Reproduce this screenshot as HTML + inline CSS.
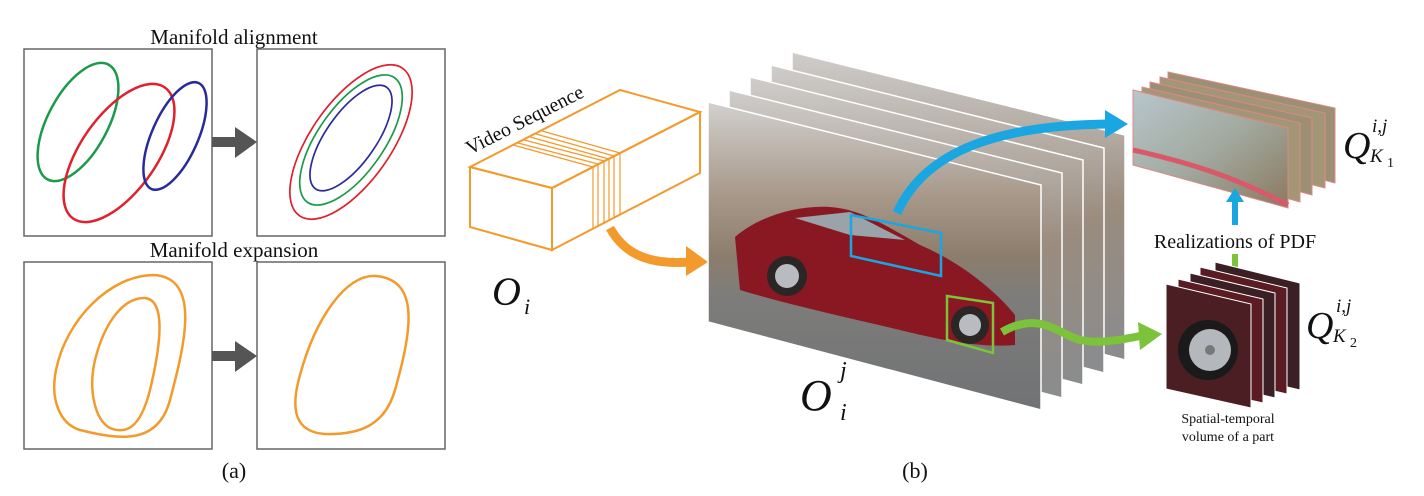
<!DOCTYPE html>
<html><head><meta charset="utf-8"><style>
html,body{margin:0;padding:0;background:#fff;}
svg{display:block;}
text{font-family:"Liberation Serif",serif;fill:#111;}
</style></head><body>
<svg width="1424" height="496" viewBox="0 0 1424 496" xmlns="http://www.w3.org/2000/svg">
<defs>
<linearGradient id="scene" x1="0" y1="0" x2="0" y2="1">
<stop offset="0" stop-color="#d2d0ce"/>
<stop offset="0.3" stop-color="#a8998b"/>
<stop offset="0.5" stop-color="#8c7d6c"/>
<stop offset="0.62" stop-color="#7e7d7a"/>
<stop offset="1" stop-color="#707275"/>
</linearGradient>
<linearGradient id="back" x1="0" y1="0" x2="0" y2="1">
<stop offset="0" stop-color="#cfcdcb"/>
<stop offset="0.5" stop-color="#9a8c7e"/>
<stop offset="1" stop-color="#8a8c8e"/>
</linearGradient>
<linearGradient id="q1" x1="0" y1="0" x2="1" y2="1">
<stop offset="0" stop-color="#b8c6cc"/>
<stop offset="0.5" stop-color="#a2aaa0"/>
<stop offset="1" stop-color="#8a7a60"/>
</linearGradient>
</defs>

<!-- (a) -->
<text x="234" y="44" font-size="21" text-anchor="middle">Manifold alignment</text>
<text x="234" y="257" font-size="21" text-anchor="middle">Manifold expansion</text>
<g fill="none" stroke="#666" stroke-width="1.5">
<rect x="24" y="49" width="188" height="187"/>
<rect x="257" y="49" width="188" height="187"/>
<rect x="24" y="262" width="188" height="187"/>
<rect x="257" y="262" width="188" height="187"/>
</g>
<g fill="#555">
<polygon points="212,137 235,137 235,127 257,142 235,158 235,147 212,147"/>
<polygon points="212,351 235,351 235,341 257,356 235,372 235,361 212,361"/>
</g>
<g fill="none" stroke-width="2.5">
<ellipse cx="78" cy="122" rx="30" ry="65" transform="rotate(28 78 122)" stroke="#1a9a4a"/>
<ellipse cx="119" cy="153" rx="38" ry="80" transform="rotate(35 119 153)" stroke="#e0202a"/>
<ellipse cx="175" cy="136" rx="23" ry="58" transform="rotate(24 175 136)" stroke="#2a2a9a"/>
</g>
<g fill="none" stroke-width="1.7">
<ellipse cx="351" cy="142" rx="40" ry="90" transform="rotate(35 351 142)" stroke="#e0202a"/>
<ellipse cx="351" cy="140" rx="33" ry="76" transform="rotate(35 351 140)" stroke="#1a9a4a"/>
<ellipse cx="351" cy="138" rx="25" ry="62" transform="rotate(35 351 138)" stroke="#2a2a9a"/>
</g>
<g fill="none" stroke="#f39a2c" stroke-width="2.5">
<path d="M154,275 C200,278 186,340 170,400 C158,445 120,440 80,430 C60,424 50,400 56,370 C66,320 110,275 154,275 Z"/>
<path d="M145,298 C165,300 162,340 150,390 C140,430 125,434 110,428 C95,420 88,390 95,360 C105,320 125,297 145,298 Z"/>
<path d="M376,276 C420,280 412,330 395,390 C385,425 360,435 325,434 C295,432 290,410 300,375 C315,320 345,274 376,276 Z"/>
</g>
<text x="234" y="478" font-size="22" text-anchor="middle">(a)</text>

<!-- video sequence box -->
<g fill="none" stroke="#f39a2c" stroke-width="2">
<polygon points="470,167 552,188 552,250 470,227"/>
<polygon points="552,188 700,112 700,173 552,250"/>
<polygon points="470,167 620,90 700,112 552,188"/>
<g stroke-width="1.2">
<line x1="593" y1="167" x2="593" y2="229"/><line x1="598" y1="164" x2="598" y2="227"/>
<line x1="604" y1="161" x2="604" y2="224"/><line x1="609" y1="159" x2="609" y2="221"/>
<line x1="614" y1="156" x2="614" y2="218"/><line x1="620" y1="153" x2="620" y2="215"/>
<line x1="513" y1="145" x2="593" y2="167"/><line x1="518" y1="143" x2="598" y2="164"/>
<line x1="524" y1="140" x2="604" y2="161"/><line x1="530" y1="137" x2="609" y2="159"/>
<line x1="536" y1="134" x2="614" y2="156"/><line x1="542" y1="131" x2="620" y2="153"/>
</g>
</g>
<text font-size="20" transform="translate(470,155) rotate(-27)">Video Sequence</text>
<path d="M610,228 C625,255 650,265 690,262" fill="none" stroke="#f39a2c" stroke-width="9"/>
<polygon points="686,246 708,262 686,276" fill="#f39a2c"/>
<text x="492" y="305" font-size="40" font-style="italic">O</text>
<text x="524" y="314" font-size="22" font-style="italic">i</text>

<!-- frames stack -->
<g stroke="#fff" stroke-width="1.5">
<polygon points="708,102 1041,185 1041,410 708,322" fill="url(#back)" transform="translate(84,-50)"/>
<polygon points="708,102 1041,185 1041,410 708,322" fill="url(#back)" transform="translate(63,-37)"/>
<polygon points="708,102 1041,185 1041,410 708,322" fill="url(#back)" transform="translate(42,-25)"/>
<polygon points="708,102 1041,185 1041,410 708,322" fill="url(#back)" transform="translate(21,-12)"/>
<polygon points="708,102 1041,185 1041,410 708,322" fill="url(#scene)"/>
</g>
<!-- car -->
<path d="M735,237 C760,215 800,205 830,207 C860,209 885,225 920,245 C960,262 995,290 1015,315 L1015,345 C980,348 940,340 900,330 C850,318 790,305 740,290 Z" fill="#8a1822"/>
<path d="M795,218 L850,212 L905,240 L850,235 Z" fill="#9aa2aa"/>
<circle cx="787" cy="276" r="20" fill="#2a2626"/><circle cx="787" cy="276" r="12" fill="#b8bcc0"/>
<circle cx="970" cy="325" r="19" fill="#2a2626"/><circle cx="970" cy="325" r="11" fill="#b8bcc0"/>
<polygon points="851,215 941,233 941,276 851,256" fill="none" stroke="#1aa6e0" stroke-width="2.5"/>
<polygon points="947,296 993,303 993,353 947,340" fill="none" stroke="#7cc23a" stroke-width="2.5"/>
<text x="800" y="410" font-size="44" font-style="italic">O</text>
<text x="840" y="378" font-size="24" font-style="italic">j</text>
<text x="840" y="420" font-size="24" font-style="italic">i</text>

<!-- blue arrow -->
<path d="M897,213 C925,150 1000,125 1110,124" fill="none" stroke="#1aa6e0" stroke-width="9"/>
<polygon points="1105,110 1128,124 1105,138" fill="#1aa6e0"/>
<!-- green arrow -->
<path d="M1002,332 C1040,310 1060,335 1080,340 C1100,344 1120,340 1140,336" fill="none" stroke="#7cc23a" stroke-width="8"/>
<polygon points="1138,322 1162,334 1140,350" fill="#7cc23a"/>

<!-- Q1 stack -->
<g stroke="#d88" stroke-width="1">
<polygon points="1168,72 1335,108 1335,183 1168,140" fill="#9c8f74"/>
<polygon points="1160,77 1325,113 1325,188 1160,146" fill="#a39676"/>
<polygon points="1150,82 1312,118 1312,195 1150,152" fill="#9c8f74"/>
<polygon points="1142,87 1300,123 1300,202 1142,158" fill="#a39676"/>
<polygon points="1133,90 1288,128 1288,208 1133,165" fill="url(#q1)"/>
</g>
<path d="M1133,150 C1200,165 1240,180 1288,205" fill="none" stroke="#d85a6a" stroke-width="5"/>
<text x="1343" y="158" font-size="38" font-style="italic">Q</text>
<text x="1372" y="132" font-size="19" font-style="italic">i,j</text>
<text x="1370" y="162" font-size="19" font-style="italic">K</text>
<text x="1387" y="167" font-size="14">1</text>

<!-- vertical arrows -->
<line x1="1235" y1="225" x2="1235" y2="200" stroke="#1aa6e0" stroke-width="6"/>
<polygon points="1226,202 1235,188 1244,202" fill="#1aa6e0"/>
<text x="1235" y="248" font-size="20" text-anchor="middle">Realizations of PDF</text>
<line x1="1235" y1="254" x2="1235" y2="278" stroke="#7cc23a" stroke-width="6"/>
<polygon points="1226,276 1235,290 1244,276" fill="#7cc23a"/>

<!-- Q2 stack -->
<g stroke="#fff" stroke-width="1">
<polygon points="1215,262 1300,283 1300,390 1215,370" fill="#3a2024"/>
<polygon points="1200,267 1287,288 1287,394 1200,374" fill="#5a1c22"/>
<polygon points="1190,273 1275,293 1275,398 1190,378" fill="#3a2024"/>
<polygon points="1178,279 1263,299 1263,403 1178,384" fill="#5a1c22"/>
<polygon points="1166,284 1251,304 1251,408 1166,389" fill="#4a1e22"/>
</g>
<circle cx="1208" cy="350" r="30" fill="#1a1a1a"/>
<circle cx="1210" cy="350" r="21" fill="#b4b8bc"/>
<circle cx="1210" cy="350" r="5" fill="#777"/>
<text x="1306" y="338" font-size="38" font-style="italic">Q</text>
<text x="1336" y="312" font-size="19" font-style="italic">i,j</text>
<text x="1333" y="342" font-size="19" font-style="italic">K</text>
<text x="1350" y="347" font-size="14">2</text>
<text x="1228" y="423" font-size="14" text-anchor="middle">Spatial-temporal</text>
<text x="1228" y="441" font-size="14" text-anchor="middle">volume of a part</text>

<text x="915" y="478" font-size="22" text-anchor="middle">(b)</text>
</svg>
</body></html>
